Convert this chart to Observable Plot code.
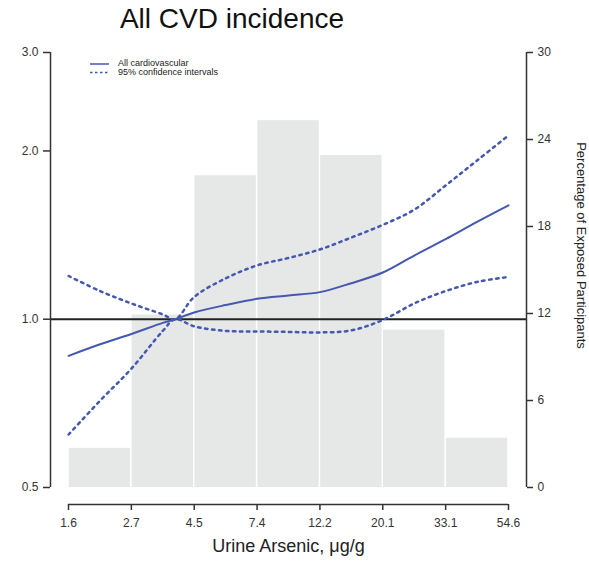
<!DOCTYPE html>
<html>
<head>
<meta charset="utf-8">
<script src="https://cdn.jsdelivr.net/npm/d3@7"></script>
<script src="https://cdn.jsdelivr.net/npm/@observablehq/plot@0.6"></script>
<style>
  html, body { margin: 0; padding: 0; background: #fff; }
  body { width: 589px; height: 562px; position: relative; font-family: "Liberation Sans", Arial, sans-serif; overflow: hidden; }
  #title { position: relative; height: 40px; }
  #title span { position: absolute; left: 0; width: 464px; top: 5px; line-height: 28px; text-align: center; font-size: 28px; color: #111; }
  .leg { position: absolute; left: 118px; font-size: 9px; line-height: 9px; color: #222; white-space: nowrap; }
  #legsw { position: absolute; left: 89px; top: 58px; }
</style>
</head>
<body>
<div id="title"><span>All CVD incidence</span></div>
<div id="chart"></div>
<svg id="legsw" width="22" height="20"></svg>
<div class="leg" id="leg1" style="top:59px"></div>
<div class="leg" id="leg2" style="top:68px"></div>
<script>
// ---- data ----
const xTickValues = [1.6487, 2.7183, 4.4817, 7.3891, 12.1825, 20.0855, 33.1155, 54.5982];
const xTickLabels = ["1.6", "2.7", "4.5", "7.4", "12.2", "20.1", "33.1", "54.6"];
const hrTicks = [0.5, 1.0, 2.0, 3.0];
const pctTicks = [0, 6, 12, 18, 24, 30];

// histogram: percentage of exposed participants per bin (bins between x ticks)
const barPct = [2.7, 11.9, 21.5, 25.3, 22.9, 10.85, 3.4];

// spline estimates (hazard ratio)
const arsenic = [1.65, 2.12, 2.72, 3.49, 3.85, 4.48, 5.75, 7.39, 9.49, 12.18, 15.64, 20.09, 25.79, 33.12, 42.52, 54.6];
const hrMain  = [0.860, 0.902, 0.941, 0.985, 1.0, 1.028, 1.060, 1.088, 1.103, 1.118, 1.160, 1.212, 1.300, 1.391, 1.493, 1.598];
const hrUpper = [1.195, 1.123, 1.067, 1.020, 1.0, 1.096, 1.183, 1.248, 1.287, 1.333, 1.400, 1.475, 1.570, 1.735, 1.923, 2.132];
const hrLower = [0.622, 0.715, 0.816, 0.953, 1.0, 0.971, 0.953, 0.951, 0.949, 0.947, 0.955, 0.997, 1.067, 1.123, 1.166, 1.190];

const seriesNames = ["All cardiovascular", "95% confidence intervals"];
const xTitle = "Urine Arsenic, \u03bcg/g";
const rightTitle = "Percentage of Exposed Participants";

// ---- build ----
const BLUE = "#4458b0";
const HR_MIN = 0.5, HR_MAX = 3.0, PCT_MAX = 30;
const pctToHR = p => HR_MIN * Math.pow(HR_MAX / HR_MIN, p / PCT_MAX);
const xMin = xTickValues[0], xMax = xTickValues[xTickValues.length - 1];

const bars = barPct.map((p, i) => ({x1: xTickValues[i], x2: xTickValues[i + 1], pct: p}));
const mainLine = arsenic.map((x, i) => ({x, y: hrMain[i]}));
const ciLines = [
  ...arsenic.map((x, i) => ({x, y: hrUpper[i], b: "upper"})),
  ...arsenic.map((x, i) => ({x, y: hrLower[i], b: "lower"}))
];
const xLabelMap = new Map(xTickValues.map((v, i) => [v, xTickLabels[i]]));
const pctHR = pctTicks.map(pctToHR);
const pctLabelMap = new Map(pctHR.map((v, i) => [v, String(pctTicks[i])]));

const AX = "#333";
const chart = Plot.plot({
  width: 589,
  height: 522,
  marginLeft: 68,
  marginRight: 81,
  marginTop: 12,
  marginBottom: 75,
  style: {fontFamily: "'Liberation Sans', Arial, sans-serif", background: "#fff", color: "#222"},
  x: {type: "log", domain: [xMin, xMax]},
  y: {type: "log", domain: [HR_MIN, HR_MAX]},
  marks: [
    Plot.rect(bars, {x1: "x1", x2: "x2", y1: () => HR_MIN, y2: d => pctToHR(d.pct),
      fill: "#e6e7e7", insetLeft: 0.75, insetRight: 0.75}),
    Plot.ruleY([1], {x1: xMin, x2: xMax, insetLeft: -18, insetRight: -18, stroke: "#222", strokeWidth: 2}),
    Plot.line(ciLines, {x: "x", y: "y", z: "b", stroke: BLUE, strokeWidth: 2.5,
      strokeDasharray: "2.5,4.5", curve: "catmull-rom"}),
    Plot.line(mainLine, {x: "x", y: "y", stroke: BLUE, strokeWidth: 2, curve: "catmull-rom"}),
    // axis lines
    Plot.ruleX([xMin], {y1: HR_MIN, y2: HR_MAX, dx: -18, stroke: AX, strokeWidth: 1.5}),
    Plot.ruleX([xMax], {y1: HR_MIN, y2: HR_MAX, dx: 18, stroke: AX, strokeWidth: 1.5}),
    Plot.ruleY([HR_MIN], {x1: xMin, x2: xMax, dy: 17, stroke: AX, strokeWidth: 1.5}),
    Plot.axisY({anchor: "left", ticks: hrTicks, tickFormat: d => d.toFixed(1), dx: -18,
      tickSize: 7, tickPadding: 5, fontSize: 12, stroke: AX, strokeWidth: 1.5, fill: "#333", label: null}),
    Plot.axisY({anchor: "right", ticks: pctHR, tickFormat: d => pctLabelMap.get(d), dx: 18,
      tickSize: 6, tickPadding: 5, fontSize: 12, stroke: AX, strokeWidth: 1.5, fill: "#333", label: null}),
    Plot.axisX({anchor: "bottom", ticks: xTickValues, tickFormat: d => xLabelMap.get(d), dy: 17,
      tickSize: 6, tickPadding: 8, fontSize: 12, stroke: AX, strokeWidth: 1.5, fill: "#333", label: null}),
    Plot.text([xTitle], {text: d => d, frameAnchor: "bottom", lineAnchor: "bottom", dy: 64,
      fontSize: 18, fill: "#222"}),
    Plot.text([rightTitle], {text: d => d, frameAnchor: "right", rotate: 90, dx: 73, dy: -24.5,
      fontSize: 13, fill: "#222", textAnchor: "middle"})
  ]
});
document.getElementById("chart").appendChild(chart);

// legend
document.getElementById("leg1").textContent = seriesNames[0];
document.getElementById("leg2").textContent = seriesNames[1];
const sw = d3.select("#legsw");
sw.append("line").attr("x1", 1).attr("x2", 20).attr("y1", 6).attr("y2", 6)
  .attr("stroke", BLUE).attr("stroke-width", 1.5);
sw.append("line").attr("x1", 1).attr("x2", 20).attr("y1", 14.5).attr("y2", 14.5)
  .attr("stroke", BLUE).attr("stroke-width", 1.5).attr("stroke-dasharray", "2.5,2.5");
</script>
</body>
</html>
